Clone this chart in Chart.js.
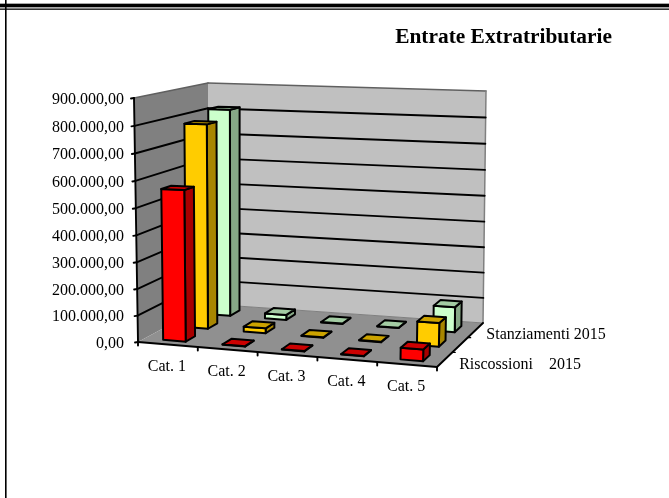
<!DOCTYPE html>
<html><head><meta charset="utf-8">
<script src="https://cdn.jsdelivr.net/npm/chart.js@4"></script>
<style>html,body{margin:0;padding:0;background:#fff}canvas{display:block}</style>
</head><body><canvas id="c" width="669" height="498"></canvas>
<script>
const categories = ["Cat. 1", "Cat. 2", "Cat. 3", "Cat. 4", "Cat. 5"];
const seriesNames = ["Riscossioni    2015", "", "Stanziamenti 2015"];
const riscossioni = [565000, 1500, 1500, 1500, 42000];
const middleSeries = [782000, 19000, 1500, 1500, 88000];
const stanziamenti = [815000, 20000, 1500, 1500, 97000];
const chartTitle = "Entrate Extratributarie";
const FONT = '"Liberation Serif"';

// Corners of the 3D box as they appear on the page (floor = 0, top = 1).
const box = {
  f0l:[138,342], f0r:[437,367], b0l:[208,304], b0r:[483,323],
  f1l:[134,98],  f1r:[443,105], b1l:[208,83],  b1r:[486,91]
};
const depthLabelNudge = [[14.5,5.5],null,[11,4.5]];
const lerp = (a,b,t)=>[a[0]+(b[0]-a[0])*t, a[1]+(b[1]-a[1])*t];
function project(u,v,z){ // u in categories, v in series depth, z 0..1
  const U=u/categories.length, V=v/seriesNames.length;
  const lo=lerp(lerp(box.f0l,box.f0r,U),lerp(box.b0l,box.b0r,U),V);
  const hi=lerp(lerp(box.f1l,box.f1r,U),lerp(box.b1l,box.b1r,U),V);
  return lerp(lo,hi,z);
}
function poly(ctx,pts,fill,stroke,lw){
  ctx.beginPath();
  pts.forEach((p,i)=>i?ctx.lineTo(p[0],p[1]):ctx.moveTo(p[0],p[1]));
  ctx.closePath();
  if(fill){ctx.fillStyle=fill;ctx.fill();}
  if(stroke){ctx.strokeStyle=stroke;ctx.lineWidth=lw;ctx.stroke();}
}
function seg(ctx,a,b,color,lw){
  ctx.beginPath();ctx.moveTo(a[0],a[1]);ctx.lineTo(b[0],b[1]);
  ctx.strokeStyle=color;ctx.lineWidth=lw;ctx.stroke();
}

// Value axis with the slight foreshortening of the original's perspective.
class PerspectiveLinearScale extends Chart.LinearScale {
  getPixelForDecimal(d){ return super.getPixelForDecimal(d/(1+0.03*(1-d))); }
}
PerspectiveLinearScale.id='perspectiveLinear';
PerspectiveLinearScale.defaults=Chart.LinearScale.defaults;
Chart.register(PerspectiveLinearScale);

const BAR_DEPTH=0.42;
const zOf=(chart,py)=>{const a=chart.chartArea;return (a.bottom-py)/(a.bottom-a.top);};

const bars3d={
  id:'bars3d',
  beforeDraw(chart){
    const ctx=chart.ctx,W=chart.width,H=chart.height;
    ctx.save();
    ctx.fillStyle='#a8a8a8';ctx.fillRect(0,3,W,5);
    ctx.fillStyle='#000';ctx.fillRect(0,4,W,3);ctx.fillRect(0,8.5,W,1.3);ctx.fillRect(5,0,1.6,H);
    ctx.restore();
  },
  beforeDatasetsDraw(chart){
    const ctx=chart.ctx,y=chart.scales.y,nU=categories.length,nV=seriesNames.length;
    ctx.save();ctx.lineJoin='round';ctx.lineCap='round';
    poly(ctx,[project(0,0,0),project(0,nV,0),project(0,nV,1),project(0,0,1)],'#808080');
    poly(ctx,[project(0,nV,0),project(nU,nV,0),project(nU,nV,1),project(0,nV,1)],'#c0c0c0');
    poly(ctx,[project(0,0,0),project(nU,0,0),project(nU,nV,0),project(0,nV,0)],'#909090');
    // wall outlines
    seg(ctx,project(0,0,1),project(0,nV,1),'#606060',1.5);
    seg(ctx,project(0,nV,1),project(nU,nV,1),'#606060',1.5);
    seg(ctx,project(nU,nV,1),project(nU,nV,0),'#808080',1.5);
    seg(ctx,project(0,nV,0),project(nU,nV,0),'#808080',1);
    // grid lines from the value axis
    y.ticks.forEach((t,i)=>{
      const z=zOf(chart,y.getPixelForValue(t.value));
      if(i>0&&i<y.ticks.length-1){
        seg(ctx,project(0,0,z),project(0,nV,z),'#000',1.9);
        seg(ctx,project(0,nV,z),project(nU,nV,z),'#000',1.9);
      }
      const p=project(0,0,z);
      seg(ctx,[p[0]-3,p[1]+0.5],p,'#000',1.9);
    });
    seg(ctx,project(0,0,0),project(0,0,1),'#000',1.9);
    seg(ctx,project(0,0,0),project(nU,0,0),'#000',1.9);
    seg(ctx,project(nU,0,0),project(nU,nV,0),'#000',1.9);
    for(let u=0;u<=nU;u++){const p=project(u,0,0);seg(ctx,p,[p[0],p[1]+3.5],'#000',1.9);}
    for(let v=1;v<nV;v++){const p=project(nU,v,0);seg(ctx,p,[p[0]+3,p[1]],'#000',1.2);}
    ctx.restore();
  },
  beforeDatasetDraw(chart,args){
    const ctx=chart.ctx,x=chart.scales.x,ds=chart.data.datasets[args.index];
    const band=(chart.chartArea.right-chart.chartArea.left)/categories.length;
    const vC=args.index+0.5,v0=vC-BAR_DEPTH/2,v1=vC+BAR_DEPTH/2;
    ctx.save();ctx.lineJoin='round';
    args.meta.data.forEach(el=>{
      const uC=(el.x-x.left)/band,hw=el.width/band/2,u0=uC-hw,u1=uC+hw;
      const z=zOf(chart,el.y);
      const s='#000',lw=2;
      poly(ctx,[project(u1,v0,0),project(u1,v1,0),project(u1,v1,z),project(u1,v0,z)],ds.sideColor,s,lw);
      poly(ctx,[project(u0,v0,0),project(u1,v0,0),project(u1,v0,z),project(u0,v0,z)],ds.backgroundColor,s,lw);
      poly(ctx,[project(u0,v0,z),project(u1,v0,z),project(u1,v1,z),project(u0,v1,z)],ds.topColor,s,lw);
    });
    ctx.restore();
    return false;
  },
  afterDatasetsDraw(chart){
    const ctx=chart.ctx;
    ctx.save();
    ctx.font='16px '+FONT;ctx.fillStyle='#000';ctx.textBaseline='middle';
    ctx.textAlign='center';
    chart.scales.x.getLabels().forEach((l,i)=>{
      const p=project(i+0.5,0,0);ctx.fillText(l,p[0]-1,p[1]+22.5);
    });
    ctx.textAlign='left';
    chart.data.datasets.forEach((d,i)=>{
      if(!d.label)return;
      const p=project(categories.length,i+0.5,0),n=depthLabelNudge[i];
      ctx.fillText(d.label,p[0]+n[0],p[1]+n[1]);
    });
    ctx.restore();
  }
};

const fmt=v=>{
  const [a,b]=Number(v).toFixed(2).split('.');
  return a.replace(/\B(?=(\d{3})+$)/g,'.')+','+b;
};

new Chart(document.getElementById('c'),{
  type:'bar',
  plugins:[bars3d],
  data:{labels:categories,datasets:[
    {label:seriesNames[0],data:riscossioni,backgroundColor:'#ff0000',sideColor:'#a80000',topColor:'#cc0000'},
    {label:seriesNames[1],data:middleSeries,backgroundColor:'#ffcc00',sideColor:'#a88600',topColor:'#cca300'},
    {label:seriesNames[2],data:stanziamenti,backgroundColor:'#ccffcc',sideColor:'#86a886',topColor:'#a3cca3'}
  ]},
  options:{
    responsive:false,animation:false,
    layout:{padding:{left:0,right:57,top:0,bottom:156}},
    datasets:{bar:{grouped:false,categoryPercentage:1,barPercentage:0.38}},
    plugins:{
      legend:{display:false},tooltip:{enabled:false},
      title:{display:true,text:chartTitle,align:'end',color:'#000',
        font:{family:FONT,size:21.4,weight:'bold'},padding:{top:25,bottom:47.3}}
    },
    scales:{
      x:{type:'category',display:false,offset:true},
      y:{type:'perspectiveLinear',min:0,max:900000,
        afterFit(s){s.width=124;},
        grid:{display:false,drawTicks:false},border:{display:false},
        ticks:{stepSize:100000,autoSkip:false,padding:0,labelOffset:1.5,color:'#000',
          font:{family:FONT,size:16},callback:fmt}}
    }
  }
});
</script></body></html>
